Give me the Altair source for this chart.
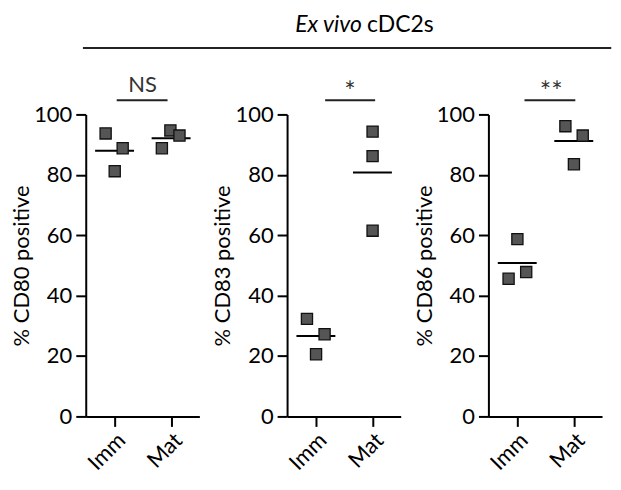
import altair as alt
import pandas as pd

FONT = "Lato"

# ---- data ----
groups = ["Imm", "Mat"]
markers = ["CD80", "CD83", "CD86"]

# per-panel point values (3 replicates per group)
imm_vals = {"CD80": [93.7, 88.8, 81.2], "CD83": [32.3, 27.2, 20.6], "CD86": [58.7, 45.6, 47.8]}
mat_vals = {"CD80": [94.7, 93.0, 88.8], "CD83": [94.3, 86.2, 61.5], "CD86": [96.1, 93.0, 83.5]}
# horizontal jitter of each replicate (in group units)
imm_jit = {"CD80": [0.70, 1.30, 1.02], "CD83": [0.70, 1.32, 1.02], "CD86": [1.02, 0.71, 1.33]}
mat_jit = {"CD80": [2.98, 3.30, 2.68], "CD83": [3.01, 3.01, 3.01], "CD86": [2.71, 3.32, 3.01]}
# mean bars
means = {"CD80": [88.0, 92.1], "CD83": [26.6, 80.8], "CD86": [50.8, 91.2]}
mean_span = {"Imm": (0.33, 1.70), "Mat": (2.32, 3.69)}
# significance
sig_labels = {"CD80": "NS", "CD83": "*", "CD86": "**"}
sig_span = {"CD80": (1.09, 2.88), "CD83": (1.34, 3.10), "CD86": (1.27, 3.06)}
sig_text_x = {"CD80": 2.0, "CD83": 2.21, "CD86": 2.21}
sig_size = {"CD80": 22, "CD83": 27, "CD86": 27}
SIG_Y = 104.7
SIG_TEXT_Y = {"CD80": 107.5, "CD83": 104.5, "CD86": 104.5}

header_parts = ["Ex vivo", "cDC2s"]

W, H = 114, 303

xscale = alt.Scale(domain=[0, 4], nice=False, zero=False)
yscale = alt.Scale(domain=[0, 100], nice=False)


def panel(m, idx):
    pts = pd.DataFrame({
        "x": imm_jit[m] + mat_jit[m],
        "v": imm_vals[m] + mat_vals[m],
    })
    mdf = pd.DataFrame({
        "x1": [mean_span[g][0] for g in groups],
        "x2": [mean_span[g][1] for g in groups],
        "v": means[m],
    })
    sdf = pd.DataFrame({"x1": [sig_span[m][0]], "x2": [sig_span[m][1]], "v": [SIG_Y]})
    tdf = pd.DataFrame({"x": [sig_text_x[m]], "v": [SIG_TEXT_Y[m]], "t": [sig_labels[m]]})

    base_x = alt.X("x:Q", scale=xscale, title=None,
                   axis=alt.Axis(values=[1, 3], labelExpr="datum.value == 1 ? 'Imm' : 'Mat'",
                                 labelAngle=-45, grid=False, labelPadding=3))
    base_y = alt.Y("v:Q", scale=yscale, title=f"% {m} positive",
                   axis=alt.Axis(values=[0, 20, 40, 60, 80, 100], grid=False,
                                 labelPadding=4, titlePadding=0))

    p = alt.Chart(pts).mark_square(size=125, fill="#555555", stroke="#111111",
                                   strokeWidth=1.3, opacity=1).encode(x=base_x, y=base_y)
    mr = alt.Chart(mdf).mark_rule(color="black", strokeWidth=2).encode(
        x=alt.X("x1:Q", scale=xscale), x2="x2:Q", y=alt.Y("v:Q", scale=yscale))
    sr = alt.Chart(sdf).mark_rule(color="#222222", strokeWidth=2).encode(
        x=alt.X("x1:Q", scale=xscale), x2="x2:Q", y=alt.Y("v:Q", scale=yscale))
    st = alt.Chart(tdf).mark_text(font=FONT, fontSize=sig_size[m], baseline="alphabetic",
                                  align="center", color="#333333").encode(
        x=alt.X("x:Q", scale=xscale), y=alt.Y("v:Q", scale=yscale), text="t:N")
    layers = [mr, p, sr, st]
    if idx == 0:
        hr = alt.Chart(pd.DataFrame({"x1": [-0.1], "x2": [18.5], "v": [122.0]})).mark_rule(
            color="#222222", strokeWidth=2).encode(
            x=alt.X("x1:Q", scale=xscale), x2="x2:Q", y=alt.Y("v:Q", scale=yscale))
        layers.append(hr)
    if idx == 1:
        h1 = alt.Chart(pd.DataFrame({"x": [2.63], "v": [127.4], "t": [header_parts[0]]})).mark_text(
            font=FONT, fontSize=23, fontStyle="italic", align="right", baseline="alphabetic",
            color="black").encode(x=alt.X("x:Q", scale=xscale), y=alt.Y("v:Q", scale=yscale), text="t:N")
        h2 = alt.Chart(pd.DataFrame({"x": [2.81], "v": [127.4], "t": [header_parts[1]]})).mark_text(
            font=FONT, fontSize=23, align="left", baseline="alphabetic",
            color="black").encode(x=alt.X("x:Q", scale=xscale), y=alt.Y("v:Q", scale=yscale), text="t:N")
        layers += [h1, h2]
    return alt.layer(*layers).properties(width=W, height=H)


chart = alt.hconcat(*[panel(m, i) for i, m in enumerate(markers)], spacing=88, bounds="flush").properties(
    padding={"left": 2, "top": 4, "right": 0, "bottom": 0}
).configure_view(stroke=None).configure_axis(
    domainColor="black", domainWidth=2, tickColor="black", tickWidth=2, tickSize=10,
    labelFont=FONT, labelFontSize=22, labelColor="black",
    titleFont=FONT, titleFontSize=22, titleFontWeight="normal", titleColor="black",
)

chart.save("out.html", embed_options={"renderer": "svg", "actions": False})
